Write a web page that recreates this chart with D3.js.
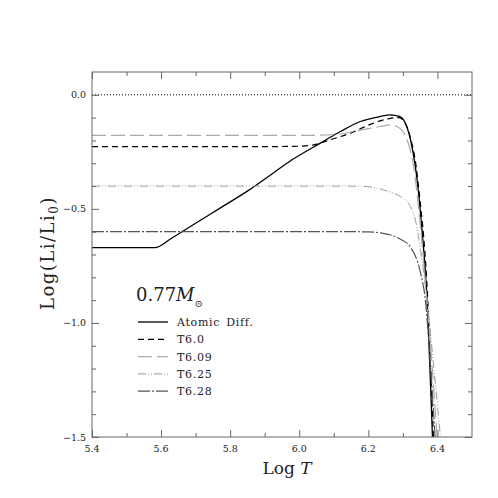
<!DOCTYPE html>
<html>
<head>
<meta charset="utf-8">
<script src="https://d3js.org/d3.v7.min.js"></script>
<style>
  body { margin: 0; background: #fff; }
  text { font-family: "DejaVu Serif", "Liberation Serif", serif; fill: #222; }
</style>
</head>
<body>
<div id="chart"></div>
<script>
// data
const atomicT = [5.4, 5.582, 5.63, 5.70, 5.78, 5.852, 5.92, 5.979, 6.061, 6.119, 6.177, 6.235, 6.264, 6.29, 6.302, 6.322, 6.336, 6.348, 6.356, 6.370, 6.378, 6.386];
const atomicV = [-0.67, -0.67, -0.629, -0.563, -0.488, -0.42, -0.348, -0.285, -0.212, -0.161, -0.117, -0.095, -0.088, -0.095, -0.11, -0.197, -0.314, -0.47, -0.605, -0.9, -1.19, -1.52];

const t60T = [5.4, 5.9, 5.98, 6.032, 6.09, 6.148, 6.215, 6.26, 6.288, 6.305, 6.322, 6.338, 6.35, 6.36, 6.372, 6.38, 6.389];
const t60V = [-0.227, -0.227, -0.226, -0.222, -0.197, -0.168, -0.124, -0.104, -0.10, -0.12, -0.19, -0.31, -0.47, -0.62, -0.9, -1.19, -1.52];

const t609T = [5.4, 6.0, 6.10, 6.167, 6.235, 6.264, 6.283, 6.312, 6.331, 6.346, 6.356, 6.372, 6.385, 6.400];
const t609V = [-0.178, -0.178, -0.175, -0.158, -0.139, -0.132, -0.139, -0.197, -0.314, -0.504, -0.66, -0.95, -1.2, -1.52];

const t625T = [5.4, 6.12, 6.18, 6.215, 6.254, 6.293, 6.322, 6.336, 6.351, 6.370, 6.389, 6.41];
const t625V = [-0.40, -0.40, -0.401, -0.406, -0.422, -0.447, -0.49, -0.548, -0.68, -0.9, -1.19, -1.52];

const t628T = [5.4, 6.15, 6.2, 6.235, 6.268, 6.293, 6.322, 6.351, 6.365, 6.380, 6.394];
const t628V = [-0.60, -0.60, -0.601, -0.605, -0.616, -0.633, -0.668, -0.78, -0.9, -1.19, -1.52];

const seriesNames = ["Atomic Diff.", "T6.0", "T6.09", "T6.25", "T6.28"];
const xTickLabels = ["5.4", "5.6", "5.8", "6.0", "6.2", "6.4"];
const yTickLabels = ["0.0", "\u22120.5", "\u22121.0", "\u22121.5"];

const width = 498, height = 498;
const margin = {top: 72, right: 26, bottom: 61, left: 92};
const innerW = width - margin.left - margin.right;
const innerH = height - margin.top - margin.bottom;

const svg = d3.select("#chart").append("svg")
  .attr("width", width).attr("height", height);

const x = d3.scaleLinear().domain([5.4, 6.5]).range([margin.left, margin.left + innerW]);
const y = d3.scaleLinear().domain([-1.5, 0.1]).range([margin.top + innerH, margin.top]);

const styles = [
  {color: "#000", width: 1.3, dash: null},
  {color: "#000", width: 1.2, dash: "6,4"},
  {color: "#aaa", width: 1.2, dash: "14,5"},
  {color: "#999", width: 1, dash: "8,2,1,2,1,2"},
  {color: "#555", width: 1.2, dash: "12,2,2,2"}
];
const series = [
  [atomicT, atomicV], [t60T, t60V], [t609T, t609V], [t625T, t625V], [t628T, t628V]
];

svg.append("clipPath").attr("id", "clip").append("rect")
  .attr("x", margin.left).attr("y", margin.top).attr("width", innerW).attr("height", innerH);

// zero line
svg.append("line")
  .attr("x1", x(5.4)).attr("x2", x(6.5)).attr("y1", y(0)).attr("y2", y(0))
  .attr("stroke", "#000").attr("stroke-width", 1).attr("stroke-dasharray", "1,2");

const line = d3.line().x(d => x(d[0])).y(d => y(d[1])).curve(d3.curveMonotoneX);

const g = svg.append("g").attr("clip-path", "url(#clip)");
series.forEach((s, i) => {
  const pts = s[0].map((t, j) => [t, s[1][j]]);
  g.append("path").datum(pts)
    .attr("d", line)
    .attr("fill", "none")
    .attr("stroke", styles[i].color)
    .attr("stroke-width", styles[i].width)
    .attr("stroke-dasharray", styles[i].dash);
});

// axes with inward ticks on all sides
function ticks(axisGen, tx, ty, values, size) {
  svg.append("g").attr("transform", `translate(${tx},${ty})`)
    .call(axisGen.tickValues(values).tickSize(size).tickFormat(""))
    .call(a => a.selectAll("path").remove())
    .call(a => a.selectAll("line").attr("stroke", "#666"));
}
const xMajor = d3.range(5.4, 6.45, 0.2);
const xMinor = d3.range(5.5, 6.45, 0.2);
const yMajor = [0, -0.5, -1.0, -1.5];
const yMinor = d3.range(-1.4, 0.05, 0.1).filter(v => Math.abs(v * 2 - Math.round(v * 2)) > 0.01);
const by = margin.top + innerH, rx = margin.left + innerW;
ticks(d3.axisTop(x), 0, by, xMajor, 7);
ticks(d3.axisTop(x), 0, by, xMinor, 4);
ticks(d3.axisBottom(x), 0, margin.top, xMajor, 7);
ticks(d3.axisBottom(x), 0, margin.top, xMinor, 4);
ticks(d3.axisRight(y), margin.left, 0, yMajor, 7);
ticks(d3.axisRight(y), margin.left, 0, yMinor, 4);
ticks(d3.axisLeft(y), rx, 0, yMajor, 7);
ticks(d3.axisLeft(y), rx, 0, yMinor, 4);

svg.append("rect")
  .attr("x", margin.left).attr("y", margin.top).attr("width", innerW).attr("height", innerH)
  .attr("fill", "none").attr("stroke", "#666").attr("stroke-width", 1);

// tick labels
svg.selectAll(".xl").data(xMajor).enter().append("text")
  .attr("x", d => x(d)).attr("y", by + 15)
  .attr("text-anchor", "middle").attr("font-size", 9.5)
  .text((d, i) => xTickLabels[i]);
svg.selectAll(".yl").data(yMajor).enter().append("text")
  .attr("x", margin.left - 6).attr("y", d => y(d) + 3.5)
  .attr("text-anchor", "end").attr("font-size", 9.5)
  .text((d, i) => yTickLabels[i]);

// axis titles
const xt = svg.append("text").attr("x", 287).attr("y", 474)
  .attr("text-anchor", "middle").attr("font-size", 17);
xt.append("tspan").text("Log ");
xt.append("tspan").attr("font-style", "italic").text("T");

const yt = svg.append("text").attr("transform", "translate(54,253) rotate(-90)")
  .attr("text-anchor", "middle").attr("font-size", 18).attr("letter-spacing", 1.5);
yt.append("tspan").text("Log(Li/Li");
yt.append("tspan").attr("font-size", 12).attr("dy", 4).text("0");
yt.append("tspan").attr("dy", -4).text(")");

// legend
const mt = svg.append("text").attr("x", 136).attr("y", 301).attr("font-size", 18);
mt.append("tspan").text("0.77");
mt.append("tspan").attr("font-style", "italic").text("M");
mt.append("tspan").attr("font-size", 10).attr("dy", 6).text("\u2299");

seriesNames.forEach((name, i) => {
  const ly = 322 + i * 17.3;
  svg.append("line")
    .attr("x1", 138).attr("x2", 168).attr("y1", ly).attr("y2", ly)
    .attr("stroke", styles[i].color).attr("stroke-width", styles[i].width)
    .attr("stroke-dasharray", styles[i].dash);
  svg.append("text").attr("x", 177).attr("y", ly + 4)
    .attr("font-size", 11).attr("letter-spacing", 0.7).attr("word-spacing", 2)
    .text(name);
});
</script>
</body>
</html>
